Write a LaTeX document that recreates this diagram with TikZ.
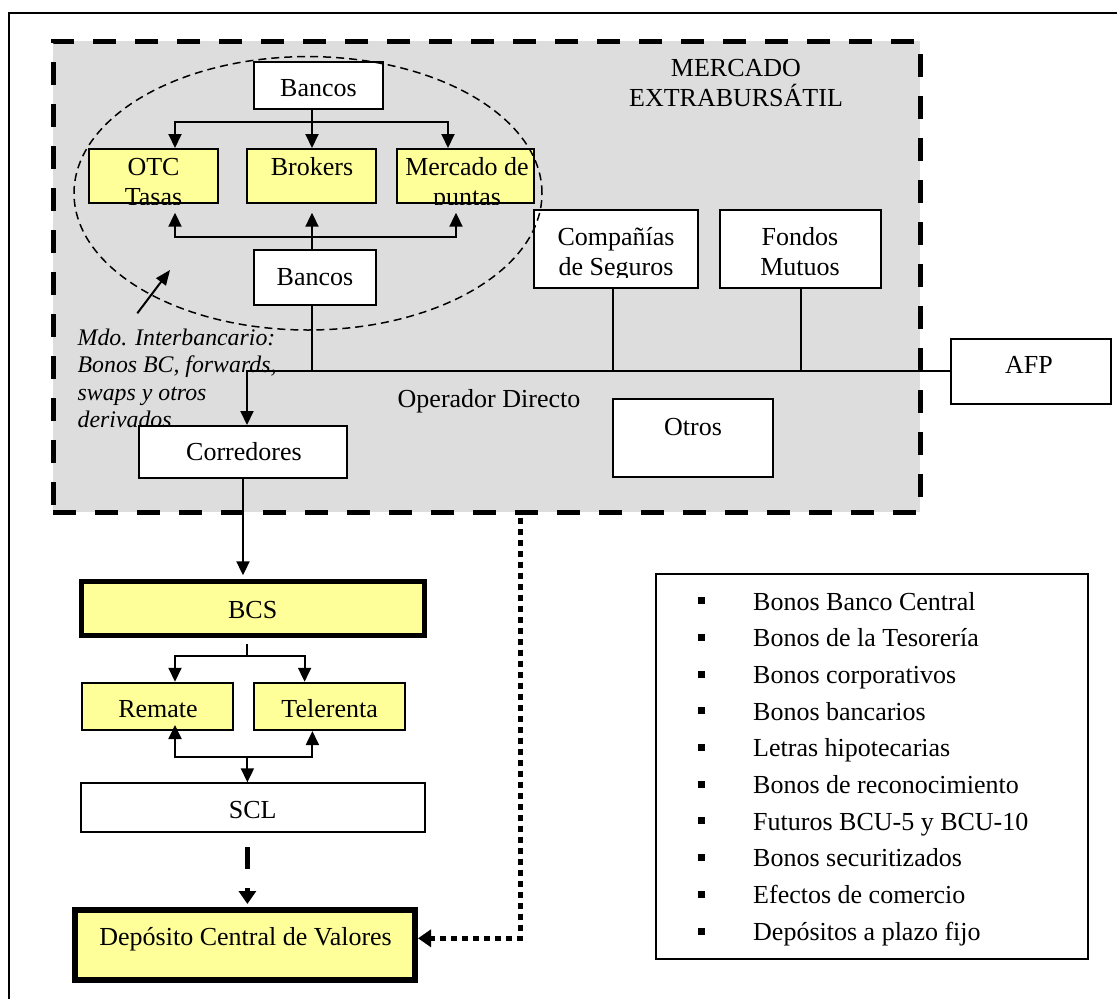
\documentclass[tikz,border=0pt]{standalone}
\usepackage{fontspec}
\setmainfont{Liberation Serif}
\usetikzlibrary{arrows.meta,calc}
\definecolor{mgray}{RGB}{221,221,221}
\definecolor{myel}{RGB}{255,255,153}
\newcommand\myfs{\fontsize{26}{30}\selectfont}
\newcommand\myfi{\fontsize{23.8}{27}\selectfont\itshape}
\begin{document}
\begin{tikzpicture}[x=1pt,y=-1pt,
  box/.style={draw=black, line width=2pt, rectangle, inner sep=0pt, fill=white},
  ybox/.style={box, fill=myel},
  txt/.style={anchor=base, inner sep=0pt, font=\myfs},
  ltxt/.style={anchor=base west, inner sep=0pt, font=\myfs},
  itx/.style={anchor=base west, inner sep=0pt, font=\myfi},
  ln/.style={line width=2pt},
  arr/.style={line width=2pt, -{Triangle[length=14pt,width=13pt]}},
  bularr/.style={line width=5pt, -{Triangle[length=13pt,width=17pt]}},
  bul/.style={fill=black, inner sep=0pt, minimum size=7pt, rectangle}
]
\useasboundingbox (0,0) rectangle (1117,999);
% outer frame (cropped)
\draw[line width=2pt] (9,999) -- (9,13) -- (1117,13);

% over-the-counter market region
\node[draw=black, fill=mgray, line width=5pt, dash pattern=on 23pt off 19pt,
      minimum width=867pt, minimum height=471pt, inner sep=0pt] (mkt) at (486.5,276.5) {};
\node[txt] (mk1) at (736,76) {MERCADO};
\node[txt] (mk2) at (736,106.7) {EXTRABURSÁTIL};

% annotation
\node[itx] (n1) at (77.5,345) {Mdo. Interbancario:};
\node[itx] (n2) at (77.5,372) {Bonos BC, forwards,};
\node[itx] (n3) at (77.5,400) {swaps y otros};
\node[itx] (n4) at (77.5,427) {derivados};
\coordinate (annA) at (137.3,313.3);
\coordinate (annB) at (170,270);
\draw[line width=2pt, -{Triangle[length=15pt,width=12pt]}] (annA) -- (annB);

% interbank boxes
\node[box, minimum width=129pt, minimum height=47pt] (bT) at (318.5,85.5) {};
\node[txt] (bTt) at (318.5,96.7) {Bancos};
\node[ybox, minimum width=129pt, minimum height=54pt] (otc) at (153.5,176) {};
\node[ybox, minimum width=129pt, minimum height=54pt] (brk) at (311.5,176) {};
\node[ybox, minimum width=137pt, minimum height=54pt] (mdp) at (465.5,176) {};
\begin{scope}
  \clip (otc.south west) rectangle (otc.north east);
  \node[txt] (otc1) at (153.5,175) {OTC};
  \node[txt] (otc2) at (153.5,205.5) {Tasas};
\end{scope}
\node[txt] (brkt) at (312,175) {Brokers};
\begin{scope}
  \clip (mdp.south west) rectangle (mdp.north east);
  \node[txt] (mdp1) at (467,175) {Mercado de};
  \node[txt] (mdp2) at (467,205.5) {puntas};
\end{scope}
\node[box, minimum width=122pt, minimum height=55pt] (bB) at (315,277.5) {};
\node[txt] (bBt) at (315,285) {Bancos};

% other participants
\node[box, minimum width=164pt, minimum height=78pt] (cs) at (616,249) {};
\node[box, minimum width=161pt, minimum height=78pt] (fm) at (800.5,249) {};
\begin{scope}
  \clip (cs.north west) rectangle ($(cs.east)+(0,28.5)$);
  \node[txt] (cs1) at (616,245.7) {Compañías};
  \node[txt] (cs2) at (616,275) {de Seguros};
\end{scope}
\begin{scope}
  \clip (fm.north west) rectangle ($(fm.east)+(0,28.5)$);
  \node[txt] (fm1) at (800,245.7) {Fondos};
  \node[txt] (fm2) at (800,275) {Mutuos};
\end{scope}
\node[box, minimum width=160pt, minimum height=65pt] (afp) at (1031,371) {};
\node[txt] (afpt) at (1029,373.3) {AFP};
\node[box, minimum width=160pt, minimum height=78pt] (otr) at (693,438) {};
\node[txt] (otrt) at (693,435) {Otros};
\node[txt] (od) at (489,407) {Operador Directo};
\node[box, minimum width=208pt, minimum height=52pt] (corr) at (243,452) {};
\node[txt] (corrt) at (244,460) {Corredores};

% interbank connectors
\coordinate (j1) at (312,122);
\coordinate (jl) at (175,122);
\coordinate (jr) at (448,122);
\draw[ln] (bT.south -| j1) -- (j1);
\draw[arr] (j1) -- (j1 |- brk.north);
\draw[arr] (j1) -| (jl |- otc.north);
\draw[arr] (j1) -| (jr |- mdp.north);
\coordinate (k1) at (312,236.7);
\coordinate (kl) at (175,236.7);
\coordinate (kr) at (456,236.7);
\draw[arr] (bB.north -| k1) -- ($(k1 |- brk.south)+(0,8.7)$);
\draw[arr] (k1) -| ($(kl |- otc.south)+(0,8.7)$);
\draw[arr] (k1) -| ($(kr |- mdp.south)+(0,8.7)$);

% direct operator line
\coordinate (m0) at (247,371);
\draw[ln] (bB.south -| k1) -- (k1 |- m0);
\draw[ln] ($(cs.south)+(-2.7,0)$) -- ($(cs.south |- m0)+(-2.7,0)$);
\draw[ln] (fm.south) -- (fm.south |- m0);
\draw[arr] (afp.west) -- (m0) -- (m0 |- corr.north);

% exchange part
\node[ybox, line width=5pt, minimum width=342.5pt, minimum height=53.4pt] (bcs) at (253,608.5) {};
\node[txt] (bcst) at (252.7,618.3) {BCS};
\node[ybox, minimum width=151pt, minimum height=47.3pt] (rem) at (157.5,706.4) {};
\node[txt] (remt) at (158,717.3) {Remate};
\node[ybox, minimum width=151pt, minimum height=47.3pt] (tel) at (329.5,706.4) {};
\node[txt] (telt) at (329.6,717.3) {Telerenta};
\node[box, minimum width=344pt, minimum height=49pt] (scl) at (253,807.8) {};
\node[txt] (sclt) at (252.7,818.3) {SCL};
\node[ybox, line width=6pt, minimum width=340pt, minimum height=70pt] (dep) at (245,945) {};
\node[txt] (dept) at (245.6,945) {Depósito Central de Valores};

\draw[arr, shorten >=4pt] (corr.south) -- (corr.south |- bcs.north);
\coordinate (s0) at (247.4,655.7);
\coordinate (sl) at (175,655.7);
\coordinate (sr) at (304.6,655.7);
\draw[ln] ($(s0 |- bcs.south)+(0,6.5)$) -- (s0);
\draw[arr] (s0) -| (sl |- rem.north);
\draw[arr] (s0) -| (sr |- tel.north);
\coordinate (u0) at (247.4,756.7);
\coordinate (ul) at (175,756.7);
\coordinate (ur) at (312.4,756.7);
\draw[arr] (u0) -| ($(ul |- rem.south)+(0,-6)$);
\draw[arr] (u0) -| (ur |- tel.south);
\draw[arr] (u0) -- (u0 |- scl.north);
\draw[bularr, dash pattern=on 22pt off 19pt, dash phase=27pt, shorten >=3pt] (scl.south -| u0) -- (u0 |- dep.north);
\coordinate (d1) at (520,938.3);
\draw[bularr, dash pattern=on 6pt off 5pt] ($(mkt.south -| d1)+(0,3)$) -- (d1) -- (d1 -| dep.east);

% instruments list
\node[box, minimum width=432pt, minimum height=385pt] (lst) at (872,766.5) {};
\foreach \t [count=\i] in {Bonos Banco Central, Bonos de la Tesorería, Bonos corporativos,
  Bonos bancarios, Letras hipotecarias, Bonos de reconocimiento, Futuros BCU-5 y BCU-10,
  Bonos securitizados, Efectos de comercio, Depósitos a plazo fijo} {
  \node[bul] (lb\i) at (701, {600.7+36.7*(\i-1)}) {};
  \node[ltxt] (li\i) at (753, {610+36.7*(\i-1)}) {\t};
}

% dashed ellipse (interbank market), drawn over the boxes
\draw[line width=1.5pt, dash pattern=on 8pt off 5pt] (308,193.3) ellipse [x radius=234pt, y radius=136.7pt];
\end{tikzpicture}
\end{document}
